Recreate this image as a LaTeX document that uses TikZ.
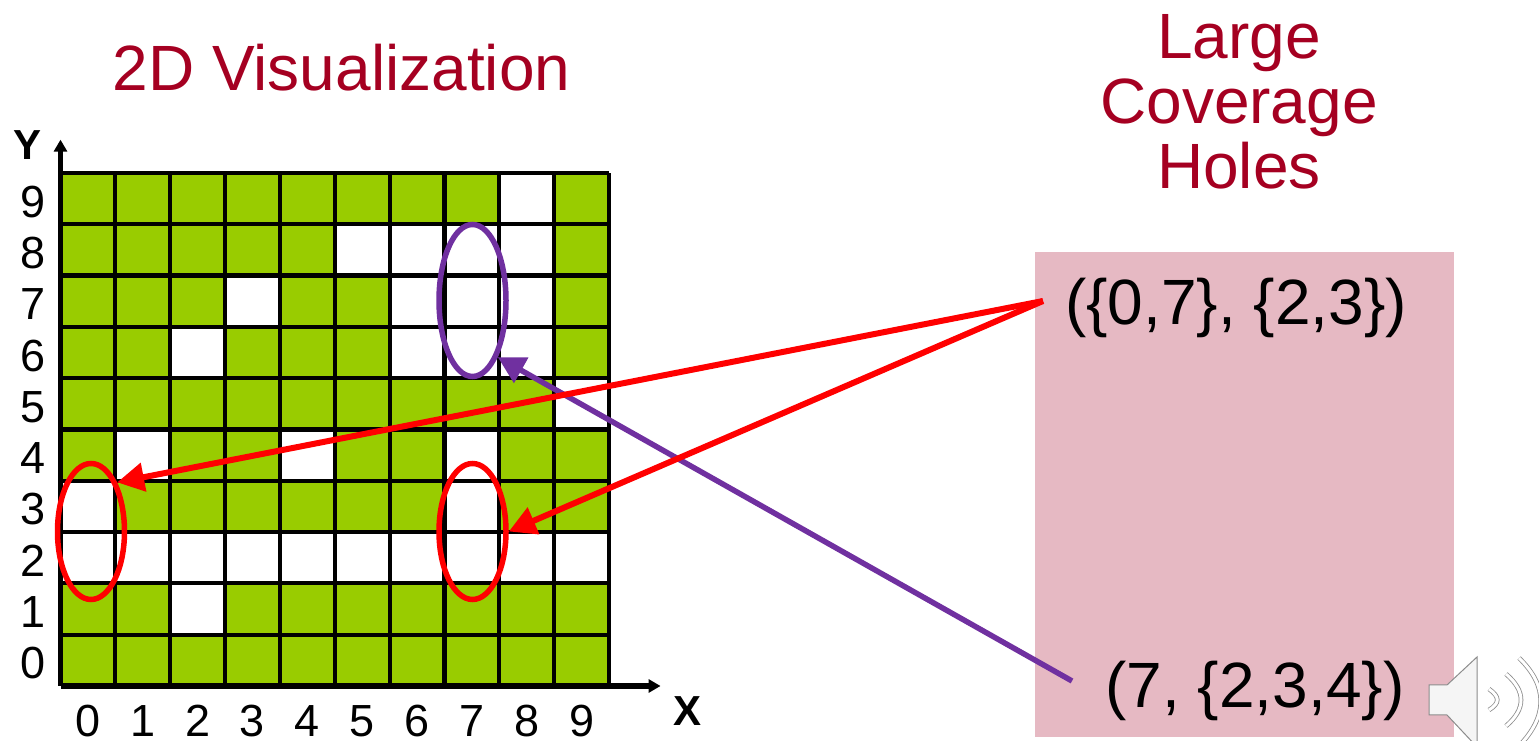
\documentclass[tikz,border=0pt]{standalone}
\usepackage{fontspec}
\setmainfont{Liberation Sans}
\usetikzlibrary{arrows.meta,shapes.geometric}

\definecolor{cellgreen}{HTML}{99CC00}
\definecolor{titlered}{HTML}{A50021}
\definecolor{holepink}{HTML}{E6B9C3}
\definecolor{holepurple}{HTML}{7030A0}
\definecolor{speakergray}{HTML}{8C8C8C}

\begin{document}
\begin{tikzpicture}[x=1pt, y=1pt,
        tick/.style={font=\fontsize{45}{50}\selectfont, anchor=base, inner sep=0pt},
        axisname/.style={font=\fontsize{42}{46}\selectfont\bfseries},
        heading/.style={text=titlered, font=\fontsize{64}{65}\selectfont, align=center},
        holetext/.style={font=\fontsize{64}{66}\selectfont, anchor=base},
        hole/.style={draw, ellipse, line width=5.5pt, inner sep=0pt, minimum width=67pt},
        link/.style={line width=6pt, -{Triangle[length=27pt,width=28pt]}},
        axisline/.style={line width=5.5pt, -{Triangle[length=12pt,width=13pt]}},
        speaker/.style={draw=speakergray, line width=1pt, fill=gray!8},
        wave/.style={draw=speakergray, line width=0.8pt, double=white, double distance=3pt}
    ]
        \useasboundingbox (0,0) rectangle (1539,741);
        \clip (0,0) rectangle (1539,741);

        % Coverage grid
        \begin{scope}[shift={(60.5,55)}, x=54.85pt, y=51.3pt]
            \fill[cellgreen] (0,0) rectangle (10,10);
            \foreach \x/\y in {8/9, 5/8,6/8,7/8,8/8, 3/7,6/7,7/7,8/7, 2/6,6/6,7/6,8/6,
                               9/5, 1/4,4/4,7/4, 0/3,7/3,
                               0/2,1/2,2/2,3/2,4/2,5/2,6/2,7/2,8/2,9/2, 2/1} {
                \fill[white] (\x,\y) rectangle (\x+1,\y+1);
            }
            \draw[line width=4.2pt] (0,0) grid[step=1] (10,10);

            % Axes
            \coordinate (origin) at (0,0);
            \coordinate (xend) at (10.94,0);
            \coordinate (yend) at (0,10.65);
            \draw[axisline] (origin) -- (xend);
            \draw[axisline] (origin) -- (yend);

            % Axis numbering
            \foreach \x in {0,...,9} {
                \node[tick] (xtick\x) at (\x+0.5, -0.99) {\x};
            }
            \foreach \y in {0,...,9} {
                \node[tick] (ytick\y) at (-0.5, \y+0.14) {\y};
            }
        \end{scope}
        \node[axisname] (xname) at (687,30) {X};
        \node[axisname] (yname) at (28,596) {Y};

        % Headings
        \node[heading, anchor=base] (gridtitle) at (341.5,650) {2D Visualization};
        \node[heading, anchor=base] (holestitle) at (1239,552.5) {Large\\Coverage\\Holes};

        % Hole list
        \fill[holepink] (1035,4) rectangle (1453.5,489);
        \node[holetext] (holeone) at (1236,416) {(\{0,7\}, \{2,3\})};
        \node[holetext] (holetwo) at (1255,33) {(7, \{2,3,4\})};
        \coordinate (fromone) at (1043,440);
        \coordinate (fromtwo) at (1072,60);

        % Marked holes
        \node[hole, draw=red, minimum height=136pt] (holeA) at (91,209.5) {};
        \node[hole, draw=red, minimum height=136pt] (holeB) at (472.5,209.5) {};
        \node[hole, draw=holepurple, minimum height=152pt] (holeC) at (472.5,440.5) {};

        % Links from the list to the grid
        \draw[link, draw=holepurple, fill=holepurple, line width=5.5pt] (fromtwo) -- (holeC.-66);
        \draw[link, draw=red, fill=red] (fromone) -- (holeA.62);
        \draw[link, draw=red, fill=red] (fromone) -- (holeB.east);

        % Speaker icon
        \draw[speaker] (1429,56) -- (1429,26) -- (1447,26) -- (1477,-6) -- (1477,84) -- (1447,56) -- cycle;
        \draw[wave] (1489,52) .. controls (1500,44) and (1500,38) .. (1489,31);
        \draw[wave] (1506,67) .. controls (1526,50) and (1526,32) .. (1506,15);
        \draw[wave] (1519,83) .. controls (1548,55) and (1548,25) .. (1519,-5);

    \end{tikzpicture}
\end{document}
